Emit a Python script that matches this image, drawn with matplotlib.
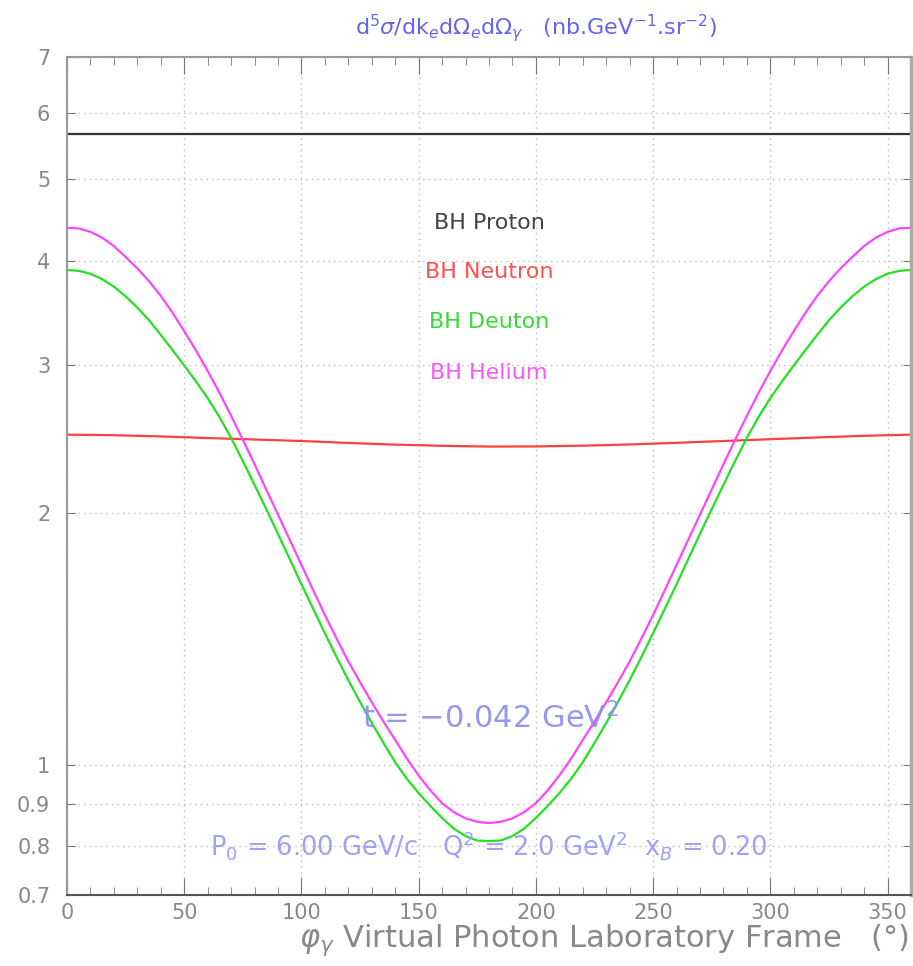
import matplotlib
matplotlib.use("Agg")
import matplotlib.pyplot as plt
from matplotlib.ticker import FixedLocator, MultipleLocator, NullLocator

plt.rcParams['font.family'] = ['DejaVu Sans']
plt.rcParams['mathtext.fontset'] = 'dejavusans'

phi = list(range(0, 361, 5))

bh_helium = [4.380, 4.370, 4.330, 4.261, 4.164, 4.041, 3.917, 3.780, 3.631, 3.467,
             3.296, 3.126, 2.954, 2.783, 2.612, 2.446, 2.286, 2.133, 1.991, 1.858,
             1.734, 1.618, 1.511, 1.416, 1.330, 1.256, 1.189, 1.127, 1.072, 1.018,
             0.972, 0.933, 0.901, 0.879, 0.864, 0.856, 0.853,
             0.856, 0.864, 0.879, 0.901, 0.933, 0.972, 1.018, 1.072, 1.127, 1.189,
             1.256, 1.330, 1.416, 1.511, 1.618, 1.734, 1.858, 1.991, 2.133, 2.286,
             2.446, 2.612, 2.783, 2.954, 3.126, 3.296, 3.467, 3.631, 3.780, 3.917,
             4.041, 4.164, 4.261, 4.330, 4.370, 4.380]

bh_deuton = [3.899, 3.890, 3.859, 3.802, 3.724, 3.627, 3.516, 3.396, 3.262, 3.129,
             2.999, 2.871, 2.742, 2.604, 2.458, 2.307, 2.160, 2.021, 1.888, 1.762,
             1.644, 1.537, 1.437, 1.346, 1.263, 1.190, 1.123, 1.063, 1.008, 0.963,
             0.926, 0.894, 0.865, 0.840, 0.823, 0.813, 0.812,
             0.813, 0.823, 0.840, 0.865, 0.894, 0.926, 0.963, 1.008, 1.063, 1.123,
             1.190, 1.263, 1.346, 1.437, 1.537, 1.644, 1.762, 1.888, 2.021, 2.160,
             2.307, 2.458, 2.604, 2.742, 2.871, 2.999, 3.129, 3.262, 3.396, 3.516,
             3.627, 3.724, 3.802, 3.859, 3.890, 3.899]

phi_n = list(range(0, 361, 20))
bh_neutron = [2.480, 2.476, 2.468, 2.457, 2.447, 2.437, 2.424, 2.413, 2.405, 2.400,
              2.401, 2.406, 2.414, 2.425, 2.437, 2.449, 2.461, 2.472, 2.480]

phi_p = [0, 360]
bh_proton = [5.67, 5.67]

y_ticks = [0.7, 0.8, 0.9, 1, 2, 3, 4, 5, 6, 7]
y_tick_labels = ['0.7', '0.8', '0.9', '1', '2', '3', '4', '5', '6', '7']
x_ticks = [0, 50, 100, 150, 200, 250, 300, 350]

W, H = 913, 966
fig = plt.figure(figsize=(W / 100, H / 100), dpi=100)
ax = fig.add_axes([67 / W, 1 - 895 / H, (911 - 67) / W, (895 - 57) / H])

ax.plot(phi_p, bh_proton, color='#333333', lw=1.6)
ax.plot(phi_n, bh_neutron, color='#ff4040', lw=1.6)
ax.plot(phi, bh_deuton, color='#22e022', lw=1.6)
ax.plot(phi, bh_helium, color='#ff44ff', lw=1.6)

ax.set_yscale('log')
ax.set_xlim(0, 360)
ax.set_ylim(0.7, 7)

ax.yaxis.set_major_locator(FixedLocator(y_ticks))
ax.yaxis.set_minor_locator(NullLocator())
ax.set_yticklabels(y_tick_labels)
ax.xaxis.set_major_locator(FixedLocator(x_ticks))
ax.xaxis.set_minor_locator(MultipleLocator(10))

ax.tick_params(axis='both', which='both', direction='in', colors='#777777',
               labelcolor='#888888', labelsize=15)
ax.tick_params(axis='x', which='major', length=12, top=True, bottom=True, pad=6)
ax.tick_params(axis='x', which='minor', length=6, top=True, bottom=True)
ax.tick_params(axis='y', which='major', length=6, left=True, right=True, pad=12)

ax.grid(True, which='major', color='#bbbbbb', linestyle=(0, (1, 3)), lw=1.0)

for side in ['left', 'top']:
    ax.spines[side].set_color('#999999')
    ax.spines[side].set_linewidth(1.5)
ax.spines['bottom'].set_color('#555555')
ax.spines['bottom'].set_linewidth(1.5)
ax.spines['right'].set_color('#aaaaaa')
ax.spines['right'].set_linewidth(2.5)

# legend-like labels
ax.text(0.5, 0.802, 'BH Proton', transform=ax.transAxes, ha='center', va='center',
        color='#444444', fontsize=16)
ax.text(0.5, 0.743, 'BH Neutron', transform=ax.transAxes, ha='center', va='center',
        color='#ff5050', fontsize=16)
ax.text(0.5, 0.684, 'BH Deuton', transform=ax.transAxes, ha='center', va='center',
        color='#33dd33', fontsize=16)
ax.text(0.5, 0.623, 'BH Helium', transform=ax.transAxes, ha='center', va='center',
        color='#ff55ff', fontsize=16)

ax.text((490 - 67) / 844, (895 - 718) / 838, r't = $-$0.042 GeV$^2$', transform=ax.transAxes,
        ha='center', va='center', color='#8c8cf0', fontsize=22, alpha=0.9)
ax.text((489 - 67) / 844, (895 - 845) / 838,
        r'P$_0$ = 6.00 GeV/c   Q$^2$ = 2.0 GeV$^2$  x$_B$ = 0.20', transform=ax.transAxes,
        ha='center', va='center', color='#a0a0f5', fontsize=18.5)

fig.text(536 / W, 1 - 28 / H,
         r'd$^5\sigma$/dk$_e$d$\Omega_e$d$\Omega_\gamma$   (nb.GeV$^{-1}$.sr$^{-2}$)',
         ha='center', va='center', color='#6464f0', fontsize=16)

fig.text(909 / W, 1 - 940 / H,
         r'$\varphi_\gamma$ Virtual Photon Laboratory Frame   (°)',
         ha='right', va='center', color='#888888', fontsize=22)

fig.savefig('out.png', dpi=100, facecolor='white')
